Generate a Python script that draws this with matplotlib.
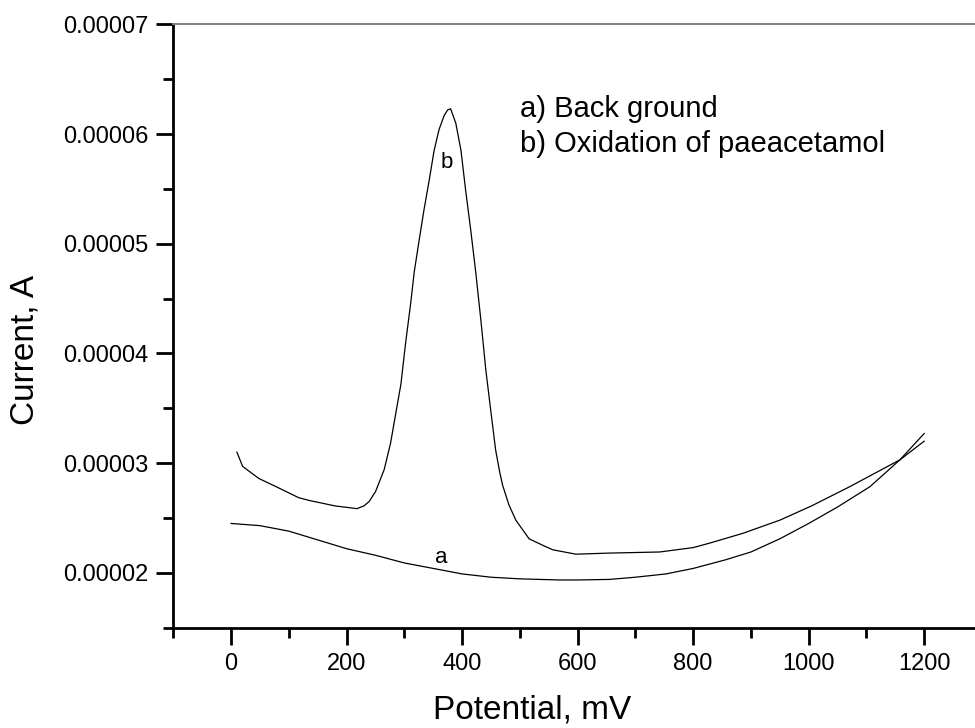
import numpy as np
import matplotlib
matplotlib.use("Agg")
import matplotlib.pyplot as plt
from matplotlib.ticker import FixedLocator, FuncFormatter

plt.rcParams['font.family'] = ['Liberation Sans', 'DejaVu Sans']

# Curve a: background (current in units of 1e-5 A)
pot_a = [0, 50, 100, 150, 200, 250, 300, 360, 400, 450, 500, 568, 600, 655,
         700, 753, 800, 857, 900, 950, 1000, 1050, 1106, 1158, 1200]
cur_a = [2.45, 2.43, 2.38, 2.30, 2.22, 2.16, 2.09, 2.03, 1.99, 1.96, 1.945,
         1.935, 1.935, 1.94, 1.96, 1.99, 2.04, 2.12, 2.19, 2.31, 2.45, 2.60,
         2.785, 3.03, 3.27]

# Curve b: oxidation of paracetamol
pot_b = [10, 20, 48, 80, 117, 135, 180, 218, 230, 239, 250, 259, 265, 276,
         282, 290, 294, 302, 311, 317, 325.5, 334, 343, 351.5, 360, 369, 375,
         380, 389, 398, 406, 415, 424, 432.5, 441, 450, 458, 465, 470, 481,
         493, 516, 540, 557, 597, 655, 742, 800, 828, 886, 950, 1005, 1071,
         1158, 1200]
cur_b = [3.10, 2.97, 2.86, 2.78, 2.685, 2.66, 2.61, 2.585, 2.61, 2.65, 2.74,
         2.86, 2.94, 3.18, 3.36, 3.60, 3.72, 4.09, 4.46, 4.74, 5.03, 5.31,
         5.58, 5.85, 6.04, 6.17, 6.22, 6.23, 6.10, 5.85, 5.49, 5.12, 4.72,
         4.30, 3.85, 3.46, 3.12, 2.92, 2.80, 2.62, 2.48, 2.31, 2.25, 2.21,
         2.17, 2.18, 2.19, 2.23, 2.27, 2.36, 2.48, 2.61, 2.785, 3.03, 3.20]

x_major = [0, 200, 400, 600, 800, 1000, 1200]
y_major = [2, 3, 4, 5, 6, 7]
scale = 1e-5

fig = plt.figure(figsize=(9.75, 7.28), dpi=100)
ax = fig.add_axes([0.1778, 0.1378, 1 - 0.1778, 0.9666 - 0.1378])

ax.plot(pot_a, np.array(cur_a) * scale, color='black', lw=0.9)
ax.plot(pot_b, np.array(cur_b) * scale, color='black', lw=0.9)

ax.set_xlim(-100, 1288)
ax.set_ylim(1.5e-5, 7e-5)

ax.xaxis.set_major_locator(FixedLocator(x_major))
ax.xaxis.set_minor_locator(FixedLocator([-100, 100, 300, 500, 700, 900, 1100, 1300]))
ax.yaxis.set_major_locator(FixedLocator([v * scale for v in y_major]))
ax.yaxis.set_minor_locator(FixedLocator([v * scale for v in [1.5, 2.5, 3.5, 4.5, 5.5, 6.5]]))
ax.yaxis.set_major_formatter(FuncFormatter(lambda v, p: f"{v:.5f}"))

ax.tick_params(which='major', direction='out', length=12, width=2, labelsize=17, pad=6)
ax.tick_params(which='minor', direction='out', length=7, width=2)
ax.tick_params(top=False, right=False)

ax.spines['right'].set_visible(False)
ax.spines['top'].set_color('#808080')
ax.spines['top'].set_linewidth(1.4)
ax.spines['left'].set_linewidth(2)
ax.spines['bottom'].set_linewidth(2)

ax.set_xlabel('Potential, mV', fontsize=24)
ax.set_ylabel('Current, A', fontsize=24)
ax.xaxis.label.set_va('center')
ax.yaxis.label.set_va('center')
ax.xaxis.set_label_coords(0.447, -0.136)
ax.yaxis.set_label_coords(-0.1856, 0.46)

ax.text(363, 2.144e-5, 'a', fontsize=16, ha='center', va='center')
ax.text(374, 5.74e-5, 'b', fontsize=16, ha='center', va='center')
ax.text(500, 6.226e-5, 'a) Back ground', fontsize=21, ha='left', va='center')
ax.text(500, 5.91e-5, 'b) Oxidation of paeacetamol', fontsize=21, ha='left', va='center')

fig.savefig('out.png', dpi=100)
